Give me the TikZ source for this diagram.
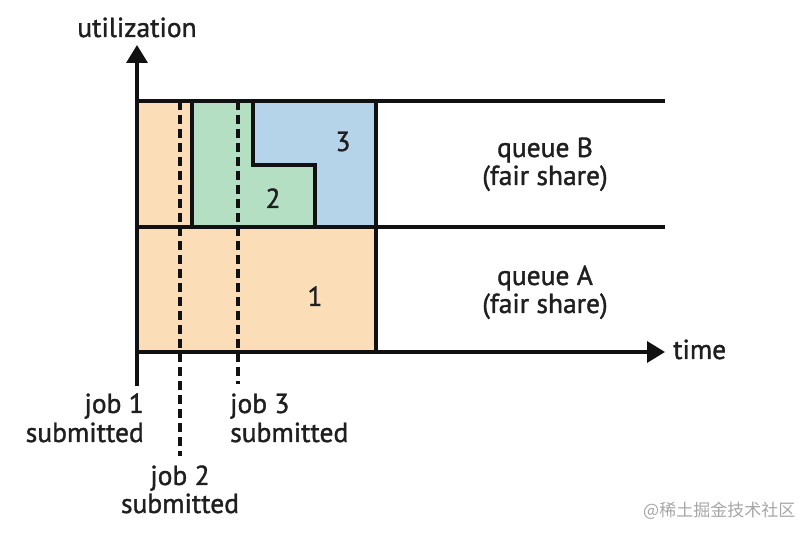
\documentclass[tikz,border=0pt]{standalone}
\usepackage{fontspec}
\setmainfont[FakeBold=1.3]{PT Sans}
\newfontfamily\cjkfont{Noto Sans CJK SC}
\usetikzlibrary{arrows.meta}
\definecolor{orangefill}{HTML}{FBDDB8}
\definecolor{greenfill}{HTML}{B5DFC3}
\definecolor{bluefill}{HTML}{B5D4EA}
\definecolor{inkline}{HTML}{111111}
\tikzset{
  x=1pt, y=-1pt,
  solidline/.style={draw=inkline, line width=3.5pt},
  dashline/.style={draw=inkline, line width=4.2pt, dash pattern=on 9pt off 5pt},
  lbl/.style={font=\fontsize{27.5}{28}\selectfont, text=black!88, inner sep=0pt, anchor=base},
  arrowline/.style={draw=inkline, line width=3.5pt, -{Triangle[length=18pt,width=21pt]}},
}
\begin{document}
\begin{tikzpicture}
\useasboundingbox (0,0) rectangle (812,534);
% fills
\fill[orangefill] (137,101) rectangle (192,227);
\fill[orangefill] (137,227) rectangle (376,352);
\fill[greenfill] (192,101) -- (253,101) -- (253,165) -- (315,165) -- (315,227) -- (192,227) -- cycle;
\fill[bluefill] (253,101) -- (376,101) -- (376,227) -- (315,227) -- (315,165) -- (253,165) -- cycle;
% coordinates
\coordinate (ybot) at (137,386);
\coordinate (ytop) at (137,45);
\coordinate (xleft) at (137,352);
\coordinate (xright) at (665,352);
% grid lines
\draw[solidline] (137,101) -- (665,101);
\draw[solidline] (137,227) -- (665,227);
\draw[solidline] (192,101) -- (192,227);
\draw[solidline] (253,101) -- (253,165) -- (315,165) -- (315,227);
\draw[solidline] (376,101) -- (376,352);
% dashed
\coordinate (d1top) at (180,101);
\coordinate (d1bot) at (180,456);
\coordinate (d2top) at (238,101);
\coordinate (d2bot) at (238,384);
\draw[dashline] (d1top) -- (d1bot);
\draw[dashline] (d2top) -- (d2bot);
% axes
\draw[arrowline] (ybot) -- (ytop);
\draw[arrowline] (xleft) -- (xright);
% labels
\node[lbl] (util) at (137,37) {utilization};
\node[lbl, anchor=base west] (time) at (673,359) {time};
\node[lbl] (n1) at (315,306) {1};
\node[lbl] (n2) at (273,208) {2};
\node[lbl] (n3) at (343,151) {3};
\node[lbl] (qb1) at (545,157) {queue B};
\node[lbl] (qb2) at (545,185) {(fair share)};
\node[lbl] (qa1) at (545,285) {queue A};
\node[lbl] (qa2) at (545,313) {(fair share)};
\node[lbl, anchor=base east] (j1a) at (144,413) {job 1};
\node[lbl, anchor=base east] (j1b) at (144,442) {submitted};
\node[lbl] (j2a) at (180,485) {job 2};
\node[lbl] (j2b) at (180,513) {submitted};
\node[lbl, anchor=base west] (j3a) at (230,413) {job 3};
\node[lbl, anchor=base west] (j3b) at (230,442) {submitted};
\node[font=\cjkfont\fontsize{17}{19}\selectfont, text=black!35, anchor=west, inner sep=0pt] (wm) at (643,511) {@稀土掘金技术社区};
\end{tikzpicture}
\end{document}
